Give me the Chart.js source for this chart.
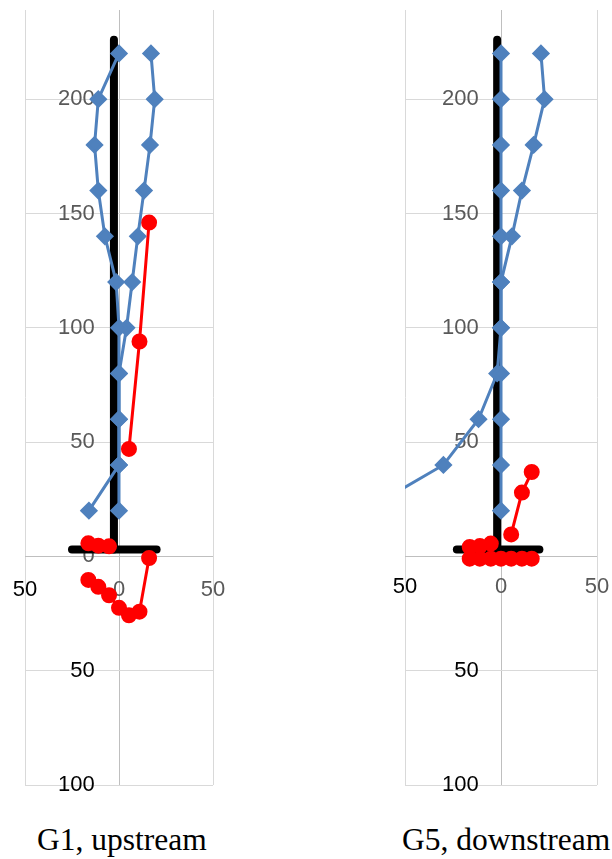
<!DOCTYPE html>
<html>
<head>
<meta charset="utf-8">
<script src="https://cdn.jsdelivr.net/npm/chart.js@4"></script>
<style>
  body { margin: 0; background: #fff; width: 612px; height: 859px; position: relative; overflow: hidden; }
  canvas { position: absolute; top: 0; }
  #g1 { left: 0; }
  #g5 { left: 380px; }
  .title { position: absolute; top: 824px; font-family: "Liberation Serif", serif; font-size: 31.5px; line-height: 1; white-space: nowrap; color: #000; }
</style>
</head>
<body>
<canvas id="g1" width="240" height="800"></canvas>
<canvas id="g5" width="232" height="800"></canvas>
<div class="title" style="left:37px">G1, upstream</div>
<div class="title" style="left:402px">G5, downstream</div>
<script>
// depths (y) of the blue profiles
const heights = [220, 200, 180, 160, 140, 120, 100, 80, 60, 40, 20];
// x positions of the red points
const redX = [-16.3, -11, -5.3, 0, 5.3, 10.9, 16];

// G1, upstream
const g1BlueA = [0, -11, -13, -11, -7.5, -1.5, 0, 0, 0, 0, 0];
const g1BlueB = [17, 19, 16.5, 13.3, 10, 7, 4, 0, 0, 0, -16];
const g1RedUpper = [5.7, 4.7, 4.4, null, 47, 94, 146];
const g1RedLower = [-10.3, -13.3, -17, -22.5, -25.8, -24.2, -0.7];
const g1PierX = [-2.7, -2.7];
const g1PierY = [226, 3];
const g1BaseX = [-25, 20];
const g1BaseY = [3, 3];

// G5, downstream
const g5BlueA = [0, 0, 0, 0, 0, 0, 0, 0, 0, 0, 0];
const g5BlueB = [20.8, 22.7, 17, 10.9, 5.7, 0, 0, -2, -11.7, -30, -71];
const g5RedUpper = [4.1, 4.5, 5.6, null, 9.6, 27.9, 36.9];
const g5RedLower = [-1, -1, -1, -1, -1, -1, -1];
const g5PierX = [-2, -2];
const g5PierY = [226, 3];
const g5BaseX = [-23, 20];
const g5BaseY = [3, 3];

const xTicks = [-50, 0, 50];
const yMin = -100, yMax = 239, xMin = -50, xMax = 50;

const BLUE = "#4F81BD";
const RED = "#FF0000";

const toPoints = (xs, ys) => xs.map((x, i) => ({ x: x, y: ys[i] }));

const blueSet = (xs) => ({
    data: toPoints(xs, heights),
    borderColor: BLUE,
    backgroundColor: BLUE,
    borderWidth: 3,
    pointStyle: "rectRot",
    pointRadius: 7,
    order: 1,
});
const redSet = (ys) => ({
    data: toPoints(redX, ys),
    borderColor: RED,
    backgroundColor: RED,
    borderWidth: 3,
    pointStyle: "circle",
    pointRadius: 6.5,
    spanGaps: false,
    order: 2,
});
const blackSet = (xs, ys) => ({
    data: toPoints(xs, ys),
    borderColor: "#000",
    borderWidth: 8,
    borderCapStyle: "round",
    pointRadius: 0,
    order: 5,
});

// axis boxes take no room, labels sit inside the plot like the excel original
const flatten = (s) => {
    if (s.isHorizontal()) s.height = 0; else s.width = 0;
    s.paddingTop = 0;
    s.paddingBottom = 0;
    s.paddingLeft = 0;
    s.paddingRight = 0;
};

const makeChart = (id, blueA, blueB, redUp, redLow, pierX, pierY, baseX, baseY, yPad, xPad, padRight) => {
    const ctx = document.getElementById(id).getContext("2d");
    return new Chart(ctx, {
        type: "line",
        data: {
            datasets: [
                blackSet(pierX, pierY),
                blackSet(baseX, baseY),
                blueSet(blueA),
                blueSet(blueB),
                redSet(redUp),
                redSet(redLow),
            ],
        },
        options: {
            responsive: false,
            animation: false,
            devicePixelRatio: 1,
            layout: { padding: { left: 25, right: padRight, top: 9, bottom: 15 } },
            plugins: { legend: { display: false }, tooltip: { enabled: false } },
            scales: {
                x: {
                    type: "linear",
                    min: xMin,
                    max: xMax,
                    afterBuildTicks: (s) => { s.ticks = xTicks.map((v) => ({ value: v })); },
                    afterFit: flatten,
                    border: { display: false },
                    grid: {
                        drawTicks: false,
                        color: (c) => (c.tick && c.tick.value === 0 ? "#BFBFBF" : "#D9D9D9"),
                    },
                    ticks: {
                        mirror: true,
                        padding: xPad,
                        maxRotation: 0,
                        minRotation: 0,
                        font: { family: "Liberation Sans", size: 22 },
                        color: (c) => (c.tick.value < 0 ? "#000" : "#595959"),
                        callback: (v) => Math.abs(v),
                    },
                },
                y: {
                    type: "linear",
                    min: yMin,
                    max: yMax,
                    afterBuildTicks: (s) => { s.ticks = s.ticks.filter((t) => t.value <= 200); },
                    afterFit: flatten,
                    border: { display: false },
                    grid: {
                        drawTicks: false,
                        color: (c) => (c.tick && c.tick.value === 0 ? "#BFBFBF" : "#D9D9D9"),
                    },
                    ticks: {
                        stepSize: 50,
                        mirror: true,
                        crossAlign: "far",
                        padding: yPad,
                        font: { family: "Liberation Sans", size: 22 },
                        color: (c) => (c.tick.value < 0 ? "#000" : "#595959"),
                        callback: (v) => Math.abs(v),
                    },
                },
            },
        },
    });
};

makeChart("g1", g1BlueA, g1BlueB, g1RedUpper, g1RedLower, g1PierX, g1PierY, g1BaseX, g1BaseY, 33, 182, 27);
makeChart("g5", g5BlueA, g5BlueB, g5RedUpper, g5RedLower, g5PierX, g5PierY, g5BaseX, g5BaseY, 37, 185, 15);
</script>
</body>
</html>
